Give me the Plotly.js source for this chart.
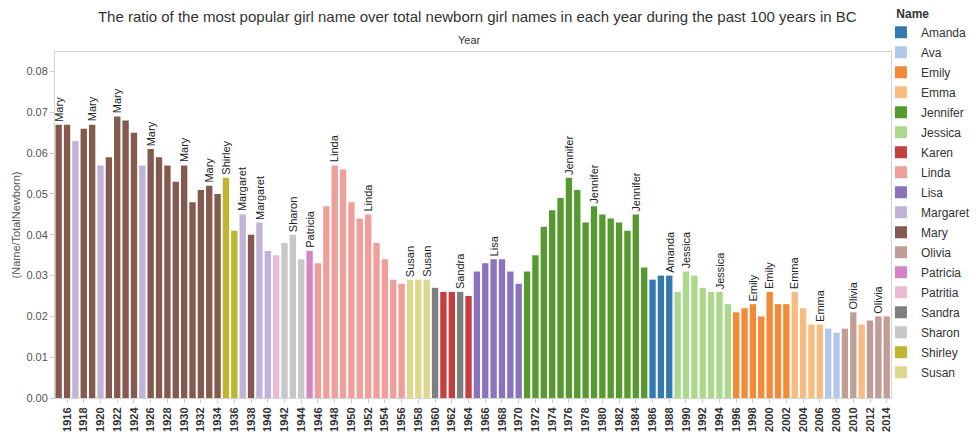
<!DOCTYPE html>
<html>
<head>
<meta charset="utf-8">
<script src="https://cdn.plot.ly/plotly-3.0.1.min.js"></script>
<style>html,body{margin:0;padding:0;background:#fff;}#chart{width:978px;height:434px;}</style>
</head>
<body>
<div id="chart"></div>
<script>
const years = [1915,1916,1917,1918,1919,1920,1921,1922,1923,1924,1925,1926,1927,1928,1929,1930,1931,1932,1933,1934,
1935,1936,1937,1938,1939,1940,1941,1942,1943,1944,1945,1946,1947,1948,1949,1950,1951,1952,1953,1954,
1955,1956,1957,1958,1959,1960,1961,1962,1963,1964,1965,1966,1967,1968,1969,1970,1971,1972,1973,1974,
1975,1976,1977,1978,1979,1980,1981,1982,1983,1984,1985,1986,1987,1988,1989,1990,1991,1992,1993,1994,
1995,1996,1997,1998,1999,2000,2001,2002,2003,2004,2005,2006,2007,2008,2009,2010,2011,2012,2013,2014];

const topNames = ["Mary","Mary","Margaret","Mary","Mary","Margaret","Mary","Mary","Mary","Mary",
"Margaret","Mary","Mary","Mary","Mary","Mary","Mary","Mary","Mary","Mary",
"Shirley","Shirley","Margaret","Mary","Margaret","Margaret","Patritia","Sharon","Sharon","Sharon",
"Patricia","Linda","Linda","Linda","Linda","Linda","Linda","Linda","Linda","Linda",
"Linda","Linda","Susan","Susan","Susan","Sandra","Karen","Karen","Sandra","Karen",
"Lisa","Lisa","Lisa","Lisa","Lisa","Lisa","Jennifer","Jennifer","Jennifer","Jennifer",
"Jennifer","Jennifer","Jennifer","Jennifer","Jennifer","Jennifer","Jennifer","Jennifer","Jennifer","Jennifer",
"Jennifer","Amanda","Amanda","Amanda","Jessica","Jessica","Jessica","Jessica","Jessica","Jessica",
"Jessica","Emily","Emily","Emily","Emily","Emily","Emily","Emily","Emma","Emma",
"Emma","Emma","Ava","Ava","Olivia","Olivia","Emma","Olivia","Olivia","Olivia"];

const ratios = [0.067,0.067,0.063,0.066,0.067,0.057,0.059,0.069,0.068,0.065,
0.057,0.061,0.059,0.057,0.053,0.057,0.048,0.051,0.052,0.050,
0.054,0.041,0.045,0.040,0.043,0.036,0.035,0.038,0.040,0.034,
0.036,0.033,0.047,0.057,0.056,0.048,0.044,0.045,0.038,0.034,
0.029,0.028,0.029,0.029,0.029,0.027,0.026,0.026,0.026,0.025,
0.031,0.033,0.034,0.034,0.031,0.028,0.031,0.035,0.042,0.046,
0.049,0.054,0.051,0.043,0.047,0.045,0.044,0.043,0.041,0.045,
0.032,0.029,0.030,0.030,0.026,0.031,0.030,0.027,0.026,0.026,
0.023,0.021,0.022,0.023,0.020,0.026,0.023,0.023,0.026,0.022,
0.018,0.018,0.017,0.016,0.017,0.021,0.018,0.019,0.020,0.020];

const labeledYears = [1915,1919,1922,1926,1930,1933,1935,1937,1939,1943,1945,1948,1952,1957,1959,1963,
1967,1976,1979,1984,1988,1990,1994,1998,2000,2003,2006,2010,2013];

const legendNames = ["Amanda","Ava","Emily","Emma","Jennifer","Jessica","Karen","Linda","Lisa","Margaret",
"Mary","Olivia","Patricia","Patritia","Sandra","Sharon","Shirley","Susan"];
const nameColors = ["#3579B1","#B1C8E8","#F28A36","#F8BC80","#569A2F","#ACD88D","#C4403E","#F09E9A","#8B72BD","#C1B3D7",
"#845A4F","#C09D97","#D584C3","#EDBAD3","#7F7F7F","#C7C7C7","#BFB531","#DED88F"];

const FONT = "Liberation Sans, Arial, Helvetica, sans-serif";

const traces = legendNames.map((nm, k) => {
  const xs = [], ys = [];
  years.forEach((yr, i) => { if (topNames[i] === nm) { xs.push(yr); ys.push(ratios[i]); } });
  return {
    type: "bar", name: nm, x: xs, y: ys, width: 0.76,
    marker: {color: nameColors[k]}, legendgroup: nm, hoverinfo: "skip"
  };
});

const annotations = labeledYears.map(yr => {
  const i = years.indexOf(yr);
  return {
    x: yr, y: ratios[i], xref: "x", yref: "y", text: topNames[i],
    showarrow: false, textangle: -90, xanchor: "center", yanchor: "bottom", yshift: 1,
    font: {family: FONT, size: 11, color: "#222"}
  };
});
annotations.push({
  text: "Year", xref: "paper", yref: "paper", x: 0.496, y: 1.0, yshift: 12, showarrow: false,
  xanchor: "center", yanchor: "middle", font: {family: FONT, size: 11, color: "#333"}
});

const layout = {
  width: 978, height: 434,
  margin: {l: 55, r: 87, t: 52, b: 36, pad: 0, autoexpand: false},
  paper_bgcolor: "#fff", plot_bgcolor: "#fff",
  barmode: "overlay",
  showlegend: true,
  title: {text: "The ratio of the most popular girl name over total newborn girl names in each year during the past 100 years in BC",
    font: {family: FONT, size: 15, color: "#333"}, x: 0.488, xanchor: "center", y: 0.962, yanchor: "middle"},
  xaxis: {
    range: [1914.56, 2014.51], tick0: 1916, dtick: 2, tickmode: "linear", tickangle: -90,
    tickfont: {family: FONT, size: 11, color: "#333", weight: "bold"},
    ticks: "outside", ticklen: 4, tickcolor: "#ccc",
    showgrid: false, zeroline: false, showline: true, linecolor: "#d4d4d4", mirror: true
  },
  yaxis: {
    range: [0, 0.0848], tickvals: [0,0.01,0.02,0.03,0.04,0.05,0.06,0.07,0.08], tickformat: ".2f",
    tickfont: {family: FONT, size: 11, color: "#555"},
    ticks: "outside", ticklen: 4, tickcolor: "#ccc",
    showgrid: false, zeroline: false, showline: true, linecolor: "#d4d4d4", mirror: true,
    title: {text: "(Name/TotalNewborn)", font: {family: FONT, size: 11, color: "#555"}, standoff: 3}
  },
  legend: {
    x: 0.988, xanchor: "left", y: 1.1438, yanchor: "top", maxheight: 1000,
    font: {family: FONT, size: 12, color: "#333"},
    title: {text: "\u00A0\u00A0\u00A0\u00A0<b>Name</b>", font: {family: FONT, size: 12, color: "#333"}},
    tracegroupgap: 1, traceorder: "grouped", bgcolor: "rgba(0,0,0,0)"
  },
  annotations: annotations
};

Plotly.newPlot("chart", traces, layout, {staticPlot: true, displayModeBar: false});
</script>
</body>
</html>
